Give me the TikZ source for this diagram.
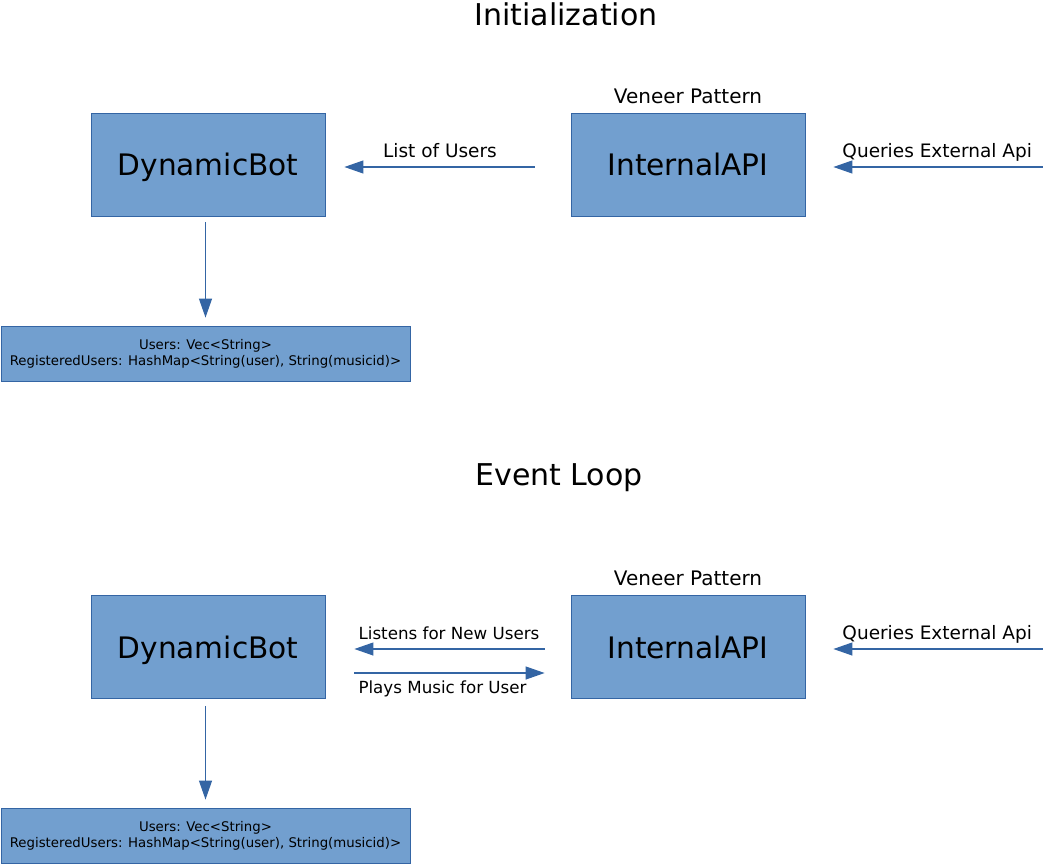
\documentclass[tikz,border=0pt]{standalone}
\usepackage{fontspec}
\setmainfont{DejaVu Sans}
\usetikzlibrary{arrows.meta}
\definecolor{boxfill}{HTML}{729FCF}
\definecolor{boxline}{HTML}{3465A4}
\tikzset{
  bigbox/.style={draw=boxline, line width=0.8pt, fill=boxfill, minimum width=234pt, minimum height=103pt, inner sep=0pt, text depth=0pt, font=\fontsize{29.6}{34}\selectfont},
  databox/.style={draw=boxline, line width=0.8pt, fill=boxfill, minimum width=409pt, minimum height=55pt, inner sep=0pt, align=center, font=\fontsize{13.3}{16}\selectfont},
  title/.style={inner sep=0pt, font=\fontsize{30}{35}\selectfont},
  lbl/.style={inner sep=0pt, font=\fontsize{18.5}{22}\selectfont},
  slbl/.style={inner sep=0pt, font=\fontsize{16.7}{20}\selectfont},
  vlbl/.style={inner sep=0pt, font=\fontsize{20}{24}\selectfont},
  conn/.style={draw=boxline, line width=1.1pt, -{Triangle[length=19pt,width=13pt]}},
}
\begin{document}
\begin{tikzpicture}[x=1pt,y=-1pt]
\useasboundingbox (0,0) rectangle (1043,864);
% Initialization
\node[title] (t1) at (566,14) {Initialization};
\node[bigbox] (dbA) at (208,164.5) {DynamicBot};
\node[bigbox] (apiA) at (688,164.5) {InternalAPI};
\node[vlbl] (vA) at (688,96) {Veneer Pattern};
\node[databox] (dataA) at (205.5,353.5) {Users: Vec<String>\\RegisteredUsers: HashMap<String(user), String(musicid)>};
\coordinate (extA) at (1043,167);
\draw[conn, shorten <=36pt, shorten >=19pt] ([yshift=-2.5pt]apiA.west) -- node[lbl, above=9pt, xshift=-8pt] (l1) {List of Users} ([yshift=-2.5pt]dbA.east);
\draw[conn, shorten >=28pt] (extA) -- node[lbl, above=5pt, xshift=13pt] (q1) {Queries External Api} (extA -| apiA.east);
\draw[conn, shorten <=6pt, shorten >=8pt] (dbA.south -| dataA.north) -- (dataA.north);
% Event Loop
\node[title] (t2) at (559,478) {Event Loop};
\node[bigbox] (dbB) at (208,647) {DynamicBot};
\node[bigbox] (apiB) at (688,647) {InternalAPI};
\node[vlbl] (vB) at (688,578) {Veneer Pattern};
\node[databox] (dataB) at (205.5,835.5) {Users: Vec<String>\\RegisteredUsers: HashMap<String(user), String(musicid)>};
\coordinate (extB) at (1043,649);
\draw[conn, shorten <=26pt, shorten >=29pt] ([yshift=-2pt]apiB.west) -- node[slbl, above=9pt, xshift=1pt] (l2) {Listens for New Users} ([yshift=-2pt]dbB.east);
\draw[conn, shorten <=29pt, shorten >=26pt] ([yshift=-26pt]dbB.east) -- node[slbl, below=7pt, xshift=-5.5pt] (l3) {Plays Music for User} ([yshift=-26pt]apiB.west);
\draw[conn, shorten >=28pt] (extB) -- node[lbl, above=5pt, xshift=13pt] (q2) {Queries External Api} (extB -| apiB.east);
\draw[conn, shorten <=7pt, shorten >=8pt] (dbB.south -| dataB.north) -- (dataB.north);
\end{tikzpicture}
\end{document}
